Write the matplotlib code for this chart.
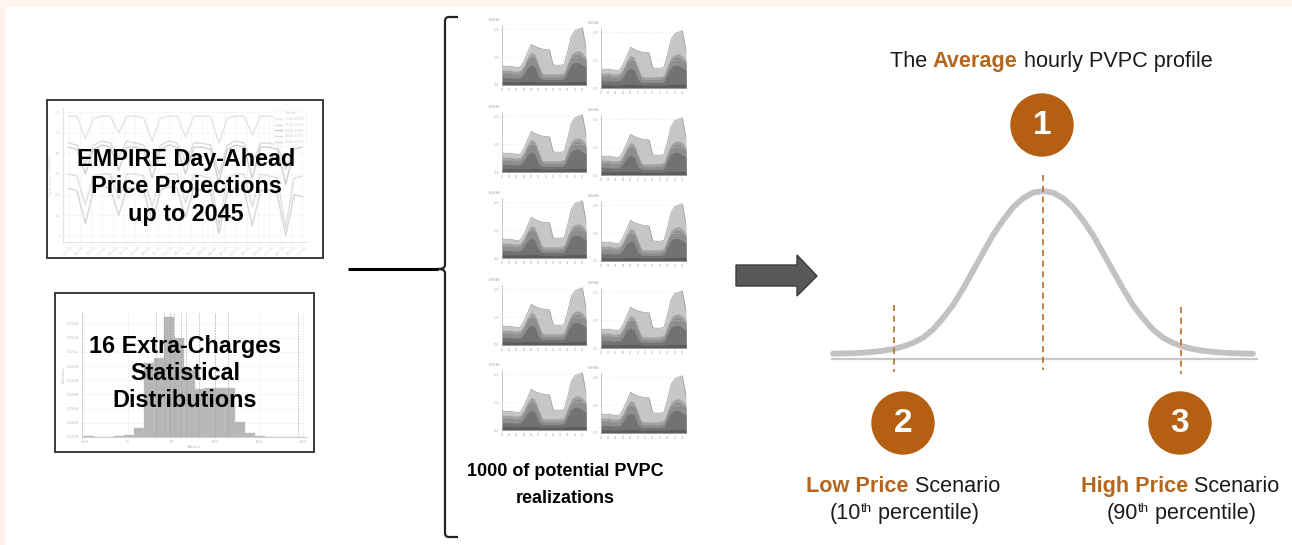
import numpy as np
import matplotlib.pyplot as plt
from matplotlib.patches import Rectangle, Circle, Polygon
from matplotlib.path import Path
from matplotlib.patches import PathPatch

W, H = 1292, 545
FONT = ["Liberation Sans", "DejaVu Sans"]
ORANGE = "#b45f12"
ORANGE_TXT = "#b5651d"

# hourly PVPC realization (EUR/kWh), cumulative layer tops, hours 0..23
hours = list(range(24))
pvpc_top = [0.069, 0.066, 0.068, 0.065, 0.063, 0.064, 0.085, 0.115, 0.146, 0.138, 0.133, 0.129,
            0.127, 0.126, 0.072, 0.071, 0.071, 0.073, 0.120, 0.175, 0.195, 0.200, 0.205, 0.134]
pvpc_l2 = [0.055, 0.052, 0.054, 0.050, 0.050, 0.052, 0.070, 0.100, 0.117, 0.110, 0.075, 0.042,
           0.040, 0.040, 0.040, 0.040, 0.041, 0.045, 0.080, 0.110, 0.120, 0.123, 0.115, 0.100]
pvpc_l3 = [0.045, 0.042, 0.044, 0.040, 0.040, 0.042, 0.060, 0.090, 0.105, 0.098, 0.065, 0.032,
           0.030, 0.030, 0.030, 0.030, 0.031, 0.035, 0.070, 0.100, 0.108, 0.110, 0.102, 0.090]
pvpc_l4 = [0.028, 0.026, 0.027, 0.025, 0.025, 0.026, 0.040, 0.062, 0.071, 0.065, 0.030, 0.020,
           0.020, 0.020, 0.020, 0.020, 0.020, 0.022, 0.050, 0.075, 0.081, 0.080, 0.072, 0.065]
pvpc_l5 = [0.012, 0.011, 0.012, 0.011, 0.011, 0.011, 0.012, 0.013, 0.013, 0.013, 0.012, 0.010,
           0.010, 0.010, 0.010, 0.010, 0.010, 0.010, 0.012, 0.013, 0.013, 0.013, 0.013, 0.012]
pvpc_layers = [pvpc_top, pvpc_l2, pvpc_l3, pvpc_l4, pvpc_l5]
layer_colors = ["#c6c6c6", "#a2a2a2", "#8e8e8e", "#727272", "#5c5c5c"]

# EMPIRE spot price projections (EUR/MWh), every 6 h over one week
empire_hours = list(range(0, 169, 6))
empire_years = ["2025-2030", "2030-2035", "2035-2040", "2040-2045", "2045-2050"]
empire_prices = [
    [58, 58, 47, 57, 58, 58, 50, 58, 58, 57, 46, 57, 58, 58, 48, 58, 58, 58, 45, 57, 58, 58, 49, 58, 58, 57, 47, 57, 58],
    [45, 44, 35, 44, 46, 45, 38, 46, 45, 44, 33, 44, 46, 45, 36, 45, 45, 44, 30, 44, 46, 45, 35, 45, 45, 44, 32, 44, 45],
    [43, 42, 30, 42, 44, 43, 32, 43, 43, 42, 28, 42, 44, 43, 30, 43, 43, 42, 26, 42, 44, 43, 28, 43, 43, 42, 25, 42, 43],
    [30, 29, 15, 29, 30, 30, 18, 30, 30, 29, 14, 29, 30, 30, 16, 30, 29, 28, 5, 28, 30, 30, 14, 30, 29, 28, 4, 28, 29],
    [23, 22, 6, 22, 24, 23, 10, 23, 23, 22, 7, 22, 24, 23, 9, 23, 22, 21, 1, 21, 23, 22, 5, 22, 22, 20, 0, 20, 19],
]
empire_colors = ["#e4e4e4", "#dadada", "#cfcfcf", "#dedede", "#d6d6d6"]

# extra-charge histogram
hist_edges = [-50 + 11.5 * k for k in range(23)]
hist_density = [0.0001, 0, 0, 0.0001, 0.0003, 0.0013, 0.0105, 0.0112, 0.0170, 0.0140, 0.0095,
                0.0068, 0.0069, 0.0069, 0.0069, 0.0021, 0.0006, 0.0001, 0, 0, 0, 0]
hist_marks = [33, 41.4, 48, 52.6, 61, 67, 82, 100, 115, 195]

# schematic distribution of the average hourly profile (offset px, relative height)
bell_dx = [-210, -200, -190, -180, -170, -160, -150, -140, -130, -120, -110, -100, -90, -80, -70,
           -60, -50, -40, -30, -20, -10, 0, 10, 20, 30, 40, 50, 60, 70, 80, 90, 100, 110, 120,
           130, 140, 150, 160, 170, 180, 190, 200, 210]
bell_h = [0.002, 0.003, 0.005, 0.008, 0.013, 0.02, 0.03, 0.046, 0.068, 0.10, 0.15, 0.22, 0.30,
          0.40, 0.51, 0.62, 0.73, 0.82, 0.90, 0.955, 0.99, 1.0, 0.99, 0.955, 0.90, 0.82, 0.73,
          0.62, 0.51, 0.40, 0.30, 0.22, 0.15, 0.10, 0.068, 0.046, 0.03, 0.02, 0.013, 0.008,
          0.005, 0.003, 0.002]
bell_cx, bell_base, bell_peak = 1043, 354, 163
percentile_x = [894, 1043, 1181]

fig = plt.figure(figsize=(W / 100, H / 100), dpi=100)
base = fig.add_axes([0, 0, 1, 1])
base.set_xlim(0, W)
base.set_ylim(H, 0)
base.axis("off")
base.add_patch(Rectangle((0, 0), W, H, color="#fff4ee", zorder=0))
base.add_patch(Rectangle((6, 7), W, H, color="white", zorder=1))


def px_axes(x0, y0, x1, y1):
    return fig.add_axes([x0 / W, 1 - y1 / H, (x1 - x0) / W, (y1 - y0) / H])


def light_axes(a, col="#d8d8d8", fs=3.2):
    for s in ["top", "right"]:
        a.spines[s].set_visible(False)
    for s in ["left", "bottom"]:
        a.spines[s].set_color(col)
        a.spines[s].set_linewidth(0.5)
    a.tick_params(colors=col, labelsize=fs, length=1, width=0.4, pad=1)


# faded EMPIRE chart
ax1 = px_axes(63, 108, 308, 242)
for prices, col, lab in zip(empire_prices, empire_colors, empire_years):
    ax1.plot(empire_hours, prices, color=col, lw=1.0, label=lab)
ax1.set_xlim(-4, 172)
ax1.set_ylim(-3, 62)
ax1.set_yticks([0, 10, 20, 30, 40, 50, 60])
ax1.set_xticks(range(0, 169, 8))
ax1.set_xticklabels(["%02d:00" % (h % 24) for h in range(0, 169, 8)], rotation=45)
ax1.set_ylabel("Spot Price (€/MWh)", fontsize=3.2, color="#d8d8d8", labelpad=1)
ax1.grid(color="#f2f2f2", lw=0.4)
light_axes(ax1)
leg = ax1.legend(title="Years", fontsize=2.6, title_fontsize=2.8, loc="upper right",
                 frameon=True, borderpad=0.4, handlelength=2)
leg.get_frame().set_edgecolor("#eeeeee")
leg.get_frame().set_linewidth(0.4)
for t in leg.get_texts():
    t.set_color("#d0d0d0")
leg.get_title().set_color("#d0d0d0")

# faded histogram
ax2 = px_axes(82, 313, 307, 437)
ax2.bar(hist_edges[:-1], hist_density, width=11.5, align="edge", color="#b7b7b7",
        edgecolor="#c4c4c4", lw=0.3, zorder=2)
for m in hist_marks:
    ax2.axvline(m, color="#9a9a9a", lw=0.4, ls=(0, (3, 2)), zorder=3)
ax2.set_xlim(-52, 205)
ax2.set_ylim(0, 0.0175)
ax2.set_yticks(np.arange(0, 0.0161, 0.002))
ax2.set_yticklabels(["%.3f" % v for v in np.arange(0, 0.0161, 0.002)])
ax2.set_xticks([-50, 0, 50, 100, 150, 200])
ax2.set_xlabel("Values", fontsize=3.2, color="#bbbbbb", labelpad=1)
ax2.set_ylabel("Density", fontsize=3.2, color="#bbbbbb", labelpad=1)
ax2.grid(color="#eeeeee", lw=0.4)
light_axes(ax2, col="#bbbbbb")

# grid of PVPC realizations
col_x = [(502, 586), (601, 686)]
row_top = [25, 112, 198, 285, 370]
for ci, (xa, xb) in enumerate(col_x):
    for rt in row_top:
        yt = rt + 3 * ci
        a = px_axes(xa, yt, xb, yt + 60)
        for layer, col in zip(pvpc_layers, layer_colors):
            a.fill_between(hours, 0, layer, color=col, lw=0)
        a.plot(hours, pvpc_top, color="#9a9a9a", lw=0.5)
        a.set_xlim(0, 23)
        a.set_ylim(0, 0.215)
        a.set_yticks([0, 0.1, 0.2])
        a.set_yticklabels(["0.00", "0.10", "0.20"])
        a.set_xticks(range(0, 24, 2))
        a.set_xticklabels(["%02d" % h for h in range(0, 24, 2)])
        a.grid(axis="y", color="#dddddd", lw=0.4, ls=":")
        light_axes(a, col="#b0b0b0", fs=1.8)
        a.text(-0.02, 1.05, "EUR/kWh", transform=a.transAxes, fontsize=1.8,
               color="#999999", ha="right", va="bottom")

# overlay for boxes, labels and the right-hand panel
ov = fig.add_axes([0, 0, 1, 1])
ov.set_xlim(0, W)
ov.set_ylim(H, 0)
ov.axis("off")
ov.patch.set_alpha(0)

ov.add_patch(Rectangle((47, 100), 276, 158, fill=False, ec="#3a3a3a", lw=1.4))
ov.add_patch(Rectangle((55, 293), 259, 159, fill=False, ec="#3a3a3a", lw=1.4))

for txt, yb in zip(["EMPIRE Day-Ahead", "Price Projections", "up to 2045"], [166, 193, 221]):
    ov.text(186, yb, txt, fontsize=16.8, fontweight="bold", family=FONT, ha="center", va="baseline")
for txt, yb in zip(["16 Extra-Charges", "Statistical", "Distributions"], [353, 380, 407]):
    ov.text(185, yb, txt, fontsize=16.8, fontweight="bold", family=FONT, ha="center", va="baseline")
for txt, yb in zip(["1000 of potential PVPC", "realizations"], [476, 503]):
    ov.text(565, yb, txt, fontsize=13, fontweight="bold", family=FONT, ha="center", va="baseline")

# connector and curly bracket
ov.plot([348, 438], [269, 269], color="black", lw=2.2, solid_capstyle="butt")
r = 4
verts = [(458, 17), (445 + r, 17), (445, 17), (445, 17 + r),
         (445, 269 - r), (445, 269), (438, 269), (445, 269), (445, 269 + r),
         (445, 537 - r), (445, 537), (445 + r, 537), (458, 537)]
codes = [Path.MOVETO, Path.LINETO, Path.CURVE3, Path.CURVE3,
         Path.LINETO, Path.CURVE3, Path.CURVE3, Path.CURVE3, Path.CURVE3,
         Path.LINETO, Path.CURVE3, Path.CURVE3, Path.LINETO]
ov.add_patch(PathPatch(Path(verts, codes), fill=False, ec="#222222", lw=1.6))

# block arrow
ov.add_patch(Polygon([(736, 265), (797, 265), (797, 255), (817, 276), (797, 296), (797, 286), (736, 286)],
                     closed=True, fc="#595959", ec="#3c3c3c", lw=1.0))

# bell curve
ov.plot([832, 1257], [359, 359], color="#c8c8c8", lw=1.6)
bx = [bell_cx + d for d in bell_dx]
by = [bell_base - h * bell_peak for h in bell_h]
ov.plot(bx, by, color="#c2c2c2", lw=4.2, solid_capstyle="round", solid_joinstyle="round")
ov.plot([percentile_x[1]] * 2, [175, 370], color=ORANGE, lw=1.1, ls=(0, (4, 3)))
ov.plot([percentile_x[0]] * 2, [305, 372], color=ORANGE, lw=1.1, ls=(0, (4, 3)))
ov.plot([percentile_x[2]] * 2, [307, 374], color=ORANGE, lw=1.1, ls=(0, (4, 3)))

for (cx, cy), num in zip([(1042, 125), (903, 423), (1180, 423)], ["1", "2", "3"]):
    ov.add_patch(Circle((cx, cy), 31, color=ORANGE))
    ov.text(cx, cy + 1, num, color="white", fontsize=24, fontweight="bold", family=FONT,
            ha="center", va="center")


def rich(x, y, parts, size):
    texts = []
    for s, color, weight, scale, rise in parts:
        t = ov.text(0, y - rise, s, color=color, fontweight=weight, fontsize=size * scale,
                    family=FONT, ha="left", va="baseline")
        texts.append(t)
    fig.canvas.draw()
    rend = fig.canvas.get_renderer()
    widths = [t.get_window_extent(rend).width for t in texts]
    cur = x - sum(widths) / 2
    for t, w in zip(texts, widths):
        t.set_x(cur)
        cur += w


rich(1051, 67, [("The ", "#1a1a1a", "normal", 1, 0), ("Average", ORANGE_TXT, "bold", 1, 0),
                (" hourly PVPC profile", "#1a1a1a", "normal", 1, 0)], 15.6)
rich(903, 492, [("Low Price", ORANGE_TXT, "bold", 1, 0), (" Scenario", "#1a1a1a", "normal", 1, 0)], 15.6)
rich(1180, 492, [("High Price", ORANGE_TXT, "bold", 1, 0), (" Scenario", "#1a1a1a", "normal", 1, 0)], 15.6)
rich(904, 519, [("(10", "#1a1a1a", "normal", 1, 0), ("th", "#1a1a1a", "normal", 0.62, 7),
                (" percentile)", "#1a1a1a", "normal", 1, 0)], 15.6)
rich(1181, 519, [("(90", "#1a1a1a", "normal", 1, 0), ("th", "#1a1a1a", "normal", 0.62, 7),
                 (" percentile)", "#1a1a1a", "normal", 1, 0)], 15.6)

fig.savefig("out.png", dpi=100)
